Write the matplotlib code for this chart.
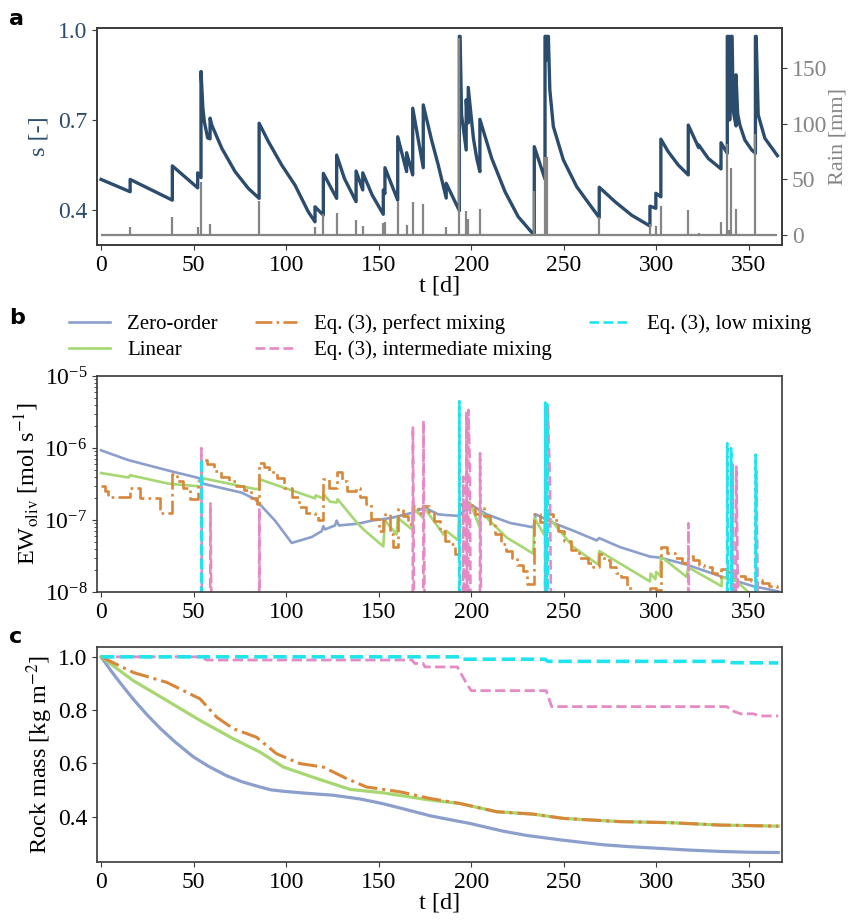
import numpy as np
import matplotlib
matplotlib.use('Agg')
import matplotlib.pyplot as plt

###############################################################################
# Data

# (a) soil saturation s [-] at time t [d]
s_points = [(0, 0.502), (15.7, 0.461), (15.7, 0.502), (38.5, 0.433), (38.5, 0.547),
            (52.2, 0.474), (52.2, 0.524), (54.0, 0.508), (54.0, 0.861), (55.0, 0.74),
            (55.8, 0.694), (57.6, 0.640), (58.9, 0.637), (58.9, 0.706), (59.8, 0.683),
            (65.2, 0.606), (72.4, 0.528), (79.6, 0.472), (85.4, 0.439), (85.4, 0.689),
            (90.4, 0.628), (97.6, 0.550), (104.8, 0.483), (112.0, 0.394), (115.6, 0.361),
            (115.6, 0.411), (120.1, 0.383), (120.1, 0.522), (127.3, 0.439), (127.3, 0.583),
            (131.5, 0.505), (137.8, 0.428), (137.8, 0.530), (141.4, 0.467), (141.4, 0.524),
            (146.5, 0.450), (152.5, 0.386), (152.5, 0.467), (153.4, 0.455), (153.4, 0.541),
            (160.3, 0.433), (160.3, 0.644), (165.1, 0.528), (165.1, 0.591), (168.4, 0.517),
            (168.4, 0.739), (174.1, 0.541), (174.1, 0.750), (178.6, 0.633), (182.2, 0.550),
            (186.5, 0.440), (186.5, 0.489), (193.6, 0.398), (193.6, 0.978), (194.0, 0.978),
            (194.8, 0.717), (197.3, 0.600), (197.3, 0.767), (198.0, 0.700), (198.4, 0.690),
            (198.4, 0.808), (201.2, 0.639), (203.0, 0.572), (204.7, 0.528), (204.7, 0.702),
            (211.1, 0.572), (218.3, 0.461), (225.4, 0.378), (232.7, 0.326), (234.1, 0.323),
            (234.1, 0.611), (239.9, 0.503), (239.9, 0.978), (240.4, 0.978), (240.8, 0.900),
            (241.2, 0.978), (241.7, 0.978), (242.5, 0.800), (244.4, 0.678), (249.8, 0.567),
            (257.0, 0.478), (264.2, 0.417), (269.2, 0.375), (269.2, 0.476), (277.7, 0.428),
            (286.7, 0.383), (296.6, 0.347), (296.6, 0.413), (299.8, 0.406), (299.8, 0.456),
            (302.5, 0.444), (302.5, 0.636), (306.5, 0.594), (311.9, 0.550), (317.3, 0.517),
            (317.3, 0.683), (322.9, 0.608), (322.9, 0.617), (328.1, 0.572), (335.0, 0.537),
            (335.0, 0.624), (338.4, 0.589), (338.4, 0.978), (339.2, 0.978), (339.7, 0.700),
            (340.3, 0.978), (341.0, 0.978), (341.6, 0.730), (343.1, 0.680), (343.1, 0.850),
            (344.0, 0.720), (345.2, 0.683), (347.9, 0.633), (351.6, 0.600), (353.6, 0.589),
            (353.6, 0.978), (354.0, 0.978), (355.1, 0.717), (358.7, 0.639), (365.5, 0.581)]

# (a) rain events [mm]
rain_t = [15.7, 38.5, 52.2, 54.0, 58.9, 85.4, 88.0, 115.6, 120.1, 127.3,
          137.8, 141.4, 152.5, 153.4, 160.3, 165.1, 168.4, 174.1, 186.5, 193.6,
          197.3, 198.4, 204.7, 234.1, 239.9, 241.2, 269.2, 296.6, 299.8, 302.5,
          317.3, 322.9, 335.0, 338.4, 339.2, 340.3, 343.1, 353.6]
rain_mm = [7, 16, 7, 48, 10, 31, 1, 7, 19, 20,
           14, 8, 11, 12, 30, 9, 30, 28, 7, 177,
           22, 15, 24, 40, 70, 70, 16, 10, 8, 26,
           23, 2, 12, 82, 5, 60, 24, 91]
rain_span = [0, 365.5]

# (b) weathering rate EW_oliv [mol s^-1]
zero_order_rate = [(0, 9.3e-7), (14.8, 6.8e-7), (37.3, 4.8e-7), (51.7, 3.9e-7), (54.0, 3.7e-7),
                   (55.0, 3.2e-7), (76.0, 2.4e-7), (83.2, 1.95e-7), (86.8, 1.55e-7), (94.0, 9.8e-8),
                   (103.0, 4.8e-8), (113.8, 5.8e-8), (119.2, 7.0e-8), (120.1, 8.2e-8), (121.0, 7.4e-8),
                   (126.4, 8.4e-8), (127.3, 9.8e-8), (128.5, 8.4e-8), (139.0, 8.9e-8), (146.2, 9.8e-8),
                   (157.0, 1.07e-7), (167.9, 1.26e-7), (175.0, 1.48e-7), (182.2, 1.2e-7), (186.7, 1.17e-7),
                   (193.6, 1.14e-7), (199.4, 1.66e-7), (208.4, 1.2e-7), (221.0, 9.1e-8), (233.6, 7.9e-8),
                   (234.9, 1.2e-7), (244.4, 9.1e-8), (255.2, 7.1e-8), (267.8, 5.2e-8), (269.2, 5.6e-8),
                   (280.4, 4.2e-8), (296.6, 3.1e-8), (302.0, 3.0e-8), (316.4, 2.4e-8), (334.4, 1.66e-8),
                   (352.4, 1.2e-8), (365.9, 1.02e-8)]

linear_rate = [(0, 4.5e-7), (14.8, 3.9e-7), (15.7, 4.2e-7), (36.4, 3.2e-7), (52.2, 2.95e-7),
               (54.0, 2.9e-7), (55.0, 3.8e-7), (83.2, 2.7e-7), (85.4, 2.7e-7), (85.4, 3.7e-7),
               (115.6, 2.0e-7), (116.0, 2.2e-7), (119.8, 2.0e-7), (120.1, 2.3e-7), (123.7, 1.8e-7),
               (127.3, 1.75e-7), (127.8, 1.95e-7), (139.0, 8.7e-8), (142.6, 7.1e-8), (152.5, 4.3e-8),
               (153.4, 9.8e-8), (159.7, 6.3e-8), (160.3, 1.07e-7), (168.0, 7.4e-8), (168.4, 1.48e-7),
               (174.0, 1.07e-7), (174.1, 1.55e-7), (185.0, 6.3e-8), (186.5, 7.1e-8), (193.0, 5.2e-8),
               (193.6, 1.55e-7), (199.4, 1.74e-7), (204.7, 7.8e-8), (204.7, 1.33e-7), (219.2, 5.7e-8),
               (233.6, 3.4e-8), (234.1, 1.07e-7), (239.3, 6.3e-8), (240.5, 1.2e-7), (255.2, 4.2e-8),
               (268.7, 2.4e-8), (269.2, 3.7e-8), (296.6, 1.4e-8), (297.0, 1.8e-8), (299.5, 1.5e-8),
               (300.0, 1.9e-8), (302.3, 1.66e-8), (302.5, 3.1e-8), (316.4, 1.62e-8), (317.3, 2.2e-8),
               (335.3, 1.2e-8), (335.5, 1.6e-8), (339.8, 1.5e-8), (341.0, 1.6e-8), (349.7, 1.0e-8),
               (366.0, 7.5e-9)]

perfect_rate = [(0, 2.95e-7), (2, 2.5e-7), (4, 2.1e-7), (15.7, 2.8e-7), (21, 2.0e-7),
                (32, 1.26e-7), (38.5, 4.3e-7), (41, 3.5e-7), (44, 2.8e-7), (48, 1.95e-7),
                (52.2, 3.5e-7), (54.0, 6.9e-7), (57, 6.0e-7), (61, 4.8e-7), (65, 4.0e-7),
                (69, 3.5e-7), (73, 3.0e-7), (77, 2.6e-7), (81, 2.0e-7), (84, 1.66e-7),
                (85.4, 6.3e-7), (88, 5.5e-7), (91, 4.7e-7), (95, 3.8e-7), (99, 2.8e-7),
                (103, 2.1e-7), (107, 1.5e-7), (111, 1.26e-7), (115.6, 1.12e-7), (117, 1.0e-7),
                (120.1, 3.7e-7), (123, 2.8e-7), (127.3, 4.6e-7), (130, 3.5e-7), (133, 2.5e-7),
                (137.8, 2.8e-7), (140, 2.1e-7), (143, 1.66e-7), (146, 1.02e-7), (150, 7.1e-8),
                (152.5, 1.0e-7), (153.4, 1.2e-7), (156, 6.3e-8), (158, 4.2e-8), (160.3, 1.4e-7),
                (163, 1.12e-7), (166, 8.7e-8), (168.4, 1.55e-7), (171, 1.26e-7), (174.1, 1.55e-7),
                (177, 1.26e-7), (180, 9.8e-8), (183, 7.1e-8), (186, 5.1e-8), (189, 4.7e-8),
                (191, 3.4e-8), (193.6, 1.66e-7), (197.3, 1.8e-7), (200, 1.6e-7), (202, 1.2e-7),
                (204.7, 1.48e-7), (207, 1.12e-7), (210, 8.7e-8), (213, 6.3e-8), (216, 4.6e-8),
                (219, 3.7e-8), (222, 3.0e-8), (225, 2.4e-8), (228, 1.95e-8), (230, 1.3e-8),
                (234.1, 1.2e-7), (237, 9.5e-8), (239.9, 7.8e-8), (241.2, 1.2e-7), (244, 1.0e-7),
                (247, 7.1e-8), (250, 5.1e-8), (254, 3.8e-8), (258, 3.0e-8), (263, 2.5e-8),
                (266, 2.2e-8), (269.2, 3.4e-8), (272, 2.75e-8), (275, 2.2e-8), (278, 1.86e-8),
                (281, 1.6e-8), (284, 1.15e-8), (287, 8.9e-9), (296.6, 1.12e-8), (299.8, 1.05e-8),
                (302.5, 4.2e-8), (306, 3.5e-8), (310, 3.0e-8), (314, 2.5e-8), (317.3, 3.2e-8),
                (320, 2.8e-8), (323, 2.4e-8), (326, 2.2e-8), (330, 1.86e-8), (333, 1.6e-8),
                (335, 2.1e-8), (338.4, 1.9e-8), (341, 1.86e-8), (344, 1.66e-8), (348, 1.5e-8),
                (351, 1.4e-8), (353.6, 1.48e-8), (357, 1.32e-8), (361, 1.2e-8), (365, 1.1e-8),
                (366, 1.1e-8)]

# below the plotted range (< 1e-8) except at the rain spikes
intermediate_rate = [(0, 1e-9), (54.0, 1e-9), (54.2, 1.0e-6), (54.6, 1e-9), (58.9, 1e-9),
                     (59.1, 1.7e-7), (59.9, 1e-9), (85.4, 1e-9), (85.5, 1.45e-7), (85.9, 1e-9),
                     (168.4, 1e-9), (168.5, 2.0e-6), (169.3, 1e-9), (174.1, 1e-9), (174.2, 2.4e-6),
                     (175.0, 1e-9), (195.5, 1e-9), (195.7, 4.0e-7), (196.2, 1e-9), (197.2, 1e-9),
                     (197.4, 3.2e-6), (197.9, 1e-9), (198.3, 1e-9), (198.5, 3.4e-6), (199.3, 5.4e-7),
                     (199.8, 1e-9), (204.7, 1e-9), (204.8, 8.5e-7), (205.5, 1e-9), (239.9, 1e-9),
                     (240.1, 3.8e-6), (240.6, 1e-9), (241.2, 1e-9), (241.4, 3.8e-6), (242.6, 3.0e-7),
                     (243.3, 1e-9), (317.2, 1e-9), (317.4, 9.0e-8), (317.9, 1e-9), (340.6, 1e-9),
                     (341.4, 5.9e-7), (341.9, 1e-9), (343.0, 1e-9), (343.3, 5.5e-7), (344.6, 1e-9),
                     (353.7, 1e-9), (354.1, 4.8e-7), (355.3, 1e-9), (366, 1e-9)]

low_rate = [(0, 1e-9), (54.1, 1e-9), (54.3, 7.0e-7), (54.6, 1e-9), (193.5, 1e-9),
            (193.6, 4.5e-6), (193.9, 1e-9), (239.9, 1e-9), (240.0, 4.3e-6), (240.4, 1e-9),
            (240.9, 1e-9), (241.0, 4.1e-6), (241.4, 1e-9), (338.3, 1e-9), (338.4, 1.17e-6),
            (338.9, 1e-9), (340.4, 1e-9), (340.5, 1.0e-6), (340.9, 1e-9), (353.6, 1e-9),
            (353.7, 8.1e-7), (354.1, 1e-9), (366, 1e-9)]

# (c) remaining rock mass [kg m^-2]
zero_order_mass = [(0, 1.0), (5, 0.951), (10, 0.905), (17.5, 0.840), (25, 0.781),
                   (32, 0.731), (40, 0.680), (49.9, 0.624), (58, 0.589), (67.9, 0.553),
                   (76, 0.531), (85.9, 0.511), (92, 0.500), (98.5, 0.495), (110, 0.488),
                   (125.5, 0.480), (140, 0.466), (152.5, 0.448), (165, 0.426), (177.7, 0.403),
                   (188, 0.389), (199.4, 0.374), (217.3, 0.345), (230, 0.329), (249.8, 0.311),
                   (271.4, 0.294), (285, 0.287), (300.2, 0.281), (318, 0.274), (334.4, 0.269),
                   (350, 0.266), (365.9, 0.265)]
linear_mass = [(0, 1.0), (17.5, 0.910), (35.5, 0.836), (53.5, 0.761), (71.5, 0.692),
               (85.9, 0.642), (98.5, 0.586), (116.5, 0.543), (134.5, 0.502), (152.5, 0.489),
               (177.7, 0.462), (194, 0.449), (213.8, 0.418), (233.6, 0.409), (249.8, 0.393),
               (280.4, 0.381), (307.4, 0.377), (334.4, 0.368), (365.9, 0.364)]
perfect_mass = [(0, 1.0), (17.5, 0.941), (35.5, 0.904), (53.5, 0.842), (62.5, 0.773),
                (71.5, 0.730), (84, 0.698), (94.8, 0.636), (107.4, 0.599), (120, 0.586),
                (132.6, 0.543), (143.4, 0.511), (161.5, 0.493), (177.7, 0.468), (194, 0.449),
                (213.8, 0.418), (233.6, 0.409), (249.8, 0.393), (280.4, 0.381), (307.4, 0.377),
                (334.4, 0.368), (365.9, 0.364)]
intermediate_mass = [(0, 1.0), (54.0, 1.0), (57, 0.988), (168.0, 0.988), (169.5, 0.975),
                     (174, 0.975), (175, 0.962), (192.5, 0.962), (197.5, 0.90), (200, 0.873),
                     (240.5, 0.873), (243.5, 0.813), (338, 0.813), (342, 0.795), (345.6, 0.786),
                     (352.4, 0.786), (356, 0.778), (365.9, 0.778)]
low_mass = [(0, 1.0), (193.4, 1.0), (194.2, 0.991), (239.8, 0.991), (241.5, 0.983),
            (338.2, 0.983), (341, 0.978), (365.9, 0.977)]

labels = ['Zero-order', 'Linear', 'Eq. (3), perfect mixing',
          'Eq. (3), intermediate mixing', 'Eq. (3), low mixing']
xticks = [0, 50, 100, 150, 200, 250, 300, 350]

###############################################################################
# Style

plt.rcParams['font.family'] = 'serif'
plt.rcParams['font.serif'] = ['Liberation Serif', 'DejaVu Serif']
plt.rcParams['mathtext.fontset'] = 'stix'
plt.rcParams['font.size'] = 17
plt.rcParams['axes.labelsize'] = 17.5
plt.rcParams['xtick.labelsize'] = 17
plt.rcParams['ytick.labelsize'] = 17
plt.rcParams['axes.linewidth'] = 1.2
plt.rcParams['axes.edgecolor'] = '#3a3a3a'
plt.rcParams['xtick.color'] = '#3a3a3a'
plt.rcParams['ytick.color'] = '#3a3a3a'
plt.rcParams['xtick.labelcolor'] = 'black'
plt.rcParams['ytick.labelcolor'] = 'black'

s_color = '#2c4c6e'
rain_color = '#858585'
colors = ['#8c9fcc', '#a6d771', '#d8873a', '#e68ac6', '#1fe4ee']
styles = ['-', '-', '-.', '--', '--']
xlims = (-2.2, 368)


def xy(points):
    arr = np.array(points, dtype=float)
    return arr[:, 0], arr[:, 1]


def panel_label(fig, x, y, letter):
    fig.text(x, y, letter, fontsize=16, fontweight='bold',
             family='DejaVu Sans', ha='left', va='center')


fig = plt.figure(figsize=(8.51, 9.22), dpi=100)

###############################################################################
# (a) saturation and rain
ax_a = fig.add_axes([0.114, 0.734, 0.805, 0.236])
t, s = xy(s_points)
ax_a.plot(t, s, color=s_color, lw=2.4, zorder=2)
ax_a.set_xlim(*xlims)
ax_a.set_ylim(0.283, 1.007)
ax_a.set_yticks([0.4, 0.7, 1.0])
ax_a.tick_params(axis='y', labelcolor=s_color)
ax_a.set_ylabel('s [-]', color=s_color, labelpad=6)
ax_a.set_xticks(xticks)
ax_a.set_xlabel('t [d]', labelpad=0)

ax_r = ax_a.twinx()
ax_r.vlines(rain_t, 0, rain_mm, color=rain_color, lw=1.6)
ax_r.hlines(0, rain_span[0], rain_span[1], color=rain_color, lw=1.6)
ax_r.set_ylim(-8.9, 185.9)
ax_r.set_yticks([0, 50, 100, 150])
ax_r.tick_params(axis='y', labelcolor=rain_color)
ax_r.set_ylabel('Rain [mm]', color=rain_color, fontsize=16, labelpad=1)
ax_r.set_xlim(*xlims)

###############################################################################
# (b) weathering rate
ax_b = fig.add_axes([0.114, 0.358, 0.805, 0.234])
rates = [zero_order_rate, linear_rate, perfect_rate, intermediate_rate, low_rate]
for k, series in enumerate(rates):
    t, v = xy(series)
    kw = dict(drawstyle='steps-post') if k == 2 else {}
    ax_b.plot(t, v, color=colors[k], ls=styles[k], lw=1.9, label=labels[k], **kw)
ax_b.set_yscale('log')
ax_b.set_ylim(1e-8, 1e-5)
ax_b.set_xlim(*xlims)
ax_b.set_xticks(xticks)
ax_b.set_ylabel(r'EW$_{\rm oliv}$ [mol s$^{-1}$]', labelpad=2)

handles, _ = ax_b.get_legend_handles_labels()
fig.legend(handles, labels, ncol=3, loc='center', bbox_to_anchor=(0.517, 0.634),
           frameon=False, fontsize=15, handlelength=2.0, columnspacing=1.8,
           labelspacing=0.3, borderaxespad=0.0)

###############################################################################
# (c) rock mass
ax_c = fig.add_axes([0.114, 0.065, 0.805, 0.233])
masses = [zero_order_mass, linear_mass, perfect_mass, intermediate_mass, low_mass]
widths = [2.3, 2.3, 2.2, 2.0, 2.6]
for k, series in enumerate(masses):
    t, m = xy(series)
    ax_c.plot(t, m, color=colors[k], ls=styles[k], lw=widths[k])
ax_c.set_xlim(*xlims)
ax_c.set_ylim(0.229, 1.036)
ax_c.set_yticks([0.4, 0.6, 0.8, 1.0])
ax_c.set_xticks(xticks)
ax_c.set_xlabel('t [d]', labelpad=0)
ax_c.set_ylabel(r'Rock mass [kg m$^{-2}$]', labelpad=2)

panel_label(fig, 0.011, 0.979, 'a')
panel_label(fig, 0.011, 0.655, 'b')
panel_label(fig, 0.011, 0.309, 'c')

fig.savefig('out.png', dpi=100)
plt.close(fig)
